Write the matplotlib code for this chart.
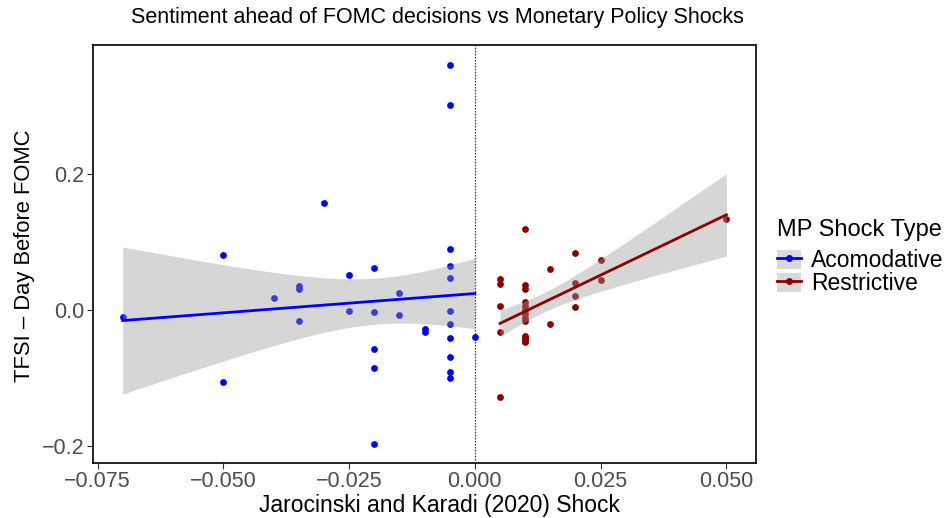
import numpy as np
import matplotlib
matplotlib.use("Agg")
import matplotlib.pyplot as plt
from matplotlib.lines import Line2D
from matplotlib.patches import Patch

plt.rcParams['font.family'] = ['Liberation Sans', 'DejaVu Sans']

# Acomodative shocks (x <= 0)
acc_x = [-0.070, -0.050, -0.050, -0.040, -0.035, -0.035, -0.035, -0.030,
         -0.025, -0.025, -0.020, -0.020, -0.020, -0.020, -0.020,
         -0.015, -0.015, -0.010, -0.010,
         -0.005, -0.005, -0.005, -0.005, -0.005, -0.005, -0.005, -0.005,
         -0.005, -0.005, -0.005, 0.000]
acc_y = [-0.011, 0.081, -0.107, 0.017, 0.031, 0.035, -0.016, 0.158,
         0.051, -0.002, 0.062, -0.003, -0.058, -0.086, -0.198,
         0.025, -0.008, -0.028, -0.033,
         0.361, 0.302, 0.090, 0.065, 0.047, -0.001, -0.021, -0.041,
         -0.070, -0.092, -0.100, -0.040]

# Restrictive shocks (x > 0)
res_x = [0.005, 0.005, 0.005, 0.005, 0.005,
         0.010, 0.010, 0.010, 0.010, 0.010, 0.010, 0.010, 0.010, 0.010,
         0.010, 0.010, 0.010, 0.010, 0.010, 0.010,
         0.015, 0.015, 0.020, 0.020, 0.020, 0.020, 0.025, 0.025, 0.050]
res_y = [0.046, 0.039, 0.006, -0.033, -0.129,
         0.119, 0.037, 0.031, 0.012, 0.006, 0.000, -0.006, -0.012, -0.017,
         -0.039, -0.042, -0.045, -0.048, -0.046, -0.040,
         0.061, -0.020, 0.084, 0.040, 0.020, 0.004, 0.073, 0.044, 0.134]

x_ticks = [-0.075, -0.050, -0.025, 0.000, 0.025, 0.050]
y_ticks = [-0.2, 0.0, 0.2]


def lm_band(x, y, t=1.70, n=80):
    x = np.asarray(x); y = np.asarray(y)
    X = np.column_stack([np.ones_like(x), x])
    beta, *_ = np.linalg.lstsq(X, y, rcond=None)
    resid = y - X @ beta
    s2 = resid @ resid / (len(x) - 2)
    xtx_inv = np.linalg.inv(X.T @ X)
    xs = np.linspace(x.min(), x.max(), n)
    Xs = np.column_stack([np.ones_like(xs), xs])
    fit = Xs @ beta
    se = np.sqrt(s2 * np.einsum('ij,jk,ik->i', Xs, xtx_inv, Xs))
    return xs, fit, fit - t * se, fit + t * se


fig = plt.figure(figsize=(9.5, 5.18), dpi=100)
ax = fig.add_axes([0.0979, 0.1062, 0.698, 0.807])

series = [(acc_x, acc_y, '#0000FF', 'Acomodative'),
          (res_x, res_y, '#8B0000', 'Restrictive')]

for xs, ys, col, lab in series:
    ax.scatter(xs, ys, s=24, color=col, linewidths=0, zorder=2)
for xs, ys, col, lab in series:
    gx, fit, lo, hi = lm_band(xs, ys)
    ax.fill_between(gx, lo, hi, color='#999999', alpha=0.4, linewidth=0, zorder=3)
    ax.plot(gx, fit, color=col, lw=2, zorder=4)

ax.axvline(0, color='#333333', lw=0.9, ls=(0, (1.2, 1.2)), zorder=1)

ax.set_xlim(-0.0759, 0.0559)
ax.set_ylim(-0.2258, 0.391)
ax.set_xticks(x_ticks)
ax.set_xticklabels([f"{v:.3f}".replace('-', '\u2212') for v in x_ticks])
ax.set_yticks(y_ticks)
ax.set_yticklabels([f"{v:.1f}".replace('-', '\u2212') for v in y_ticks])
ax.tick_params(axis='both', labelsize=15.5, colors='#333333', labelcolor='#4D4D4D',
               length=4, width=0.8, pad=2)
for sp in ax.spines.values():
    sp.set_color('black')
    sp.set_linewidth(1.2)

ax.set_xlabel('Jarocinski and Karadi (2020) Shock', fontsize=16.5)
ax.xaxis.set_label_coords(0.523, -0.073)
ax.set_ylabel('TFSI \u2013 Day Before FOMC', fontsize=15.8)
ax.yaxis.set_label_coords(-0.087, 0.495)
fig.text(0.46, 0.966, 'Sentiment ahead of FOMC decisions vs Monetary Policy Shocks',
         ha='center', va='center', fontsize=15.5)

# legend
fig.text(777 / 950, 1 - 230 / 518, 'MP Shock Type', ha='left', va='center',
         fontsize=17)
handles = [(Patch(facecolor='#D9D9D9', edgecolor='none'),
            Line2D([], [], color=c, lw=2, marker='o', markersize=4))
           for _, _, c, l in series]
labels = [l for _, _, _, l in series]
leg = fig.legend(handles=handles, labels=labels, loc='upper left',
                 bbox_to_anchor=(777 / 950, 1 - 249 / 518), frameon=False,
                 fontsize=16.5, handlelength=1.05, handleheight=0.9,
                 handletextpad=0.45, labelspacing=0.0, borderaxespad=0,
                 borderpad=0)

fig.savefig('out.png', dpi=100)
